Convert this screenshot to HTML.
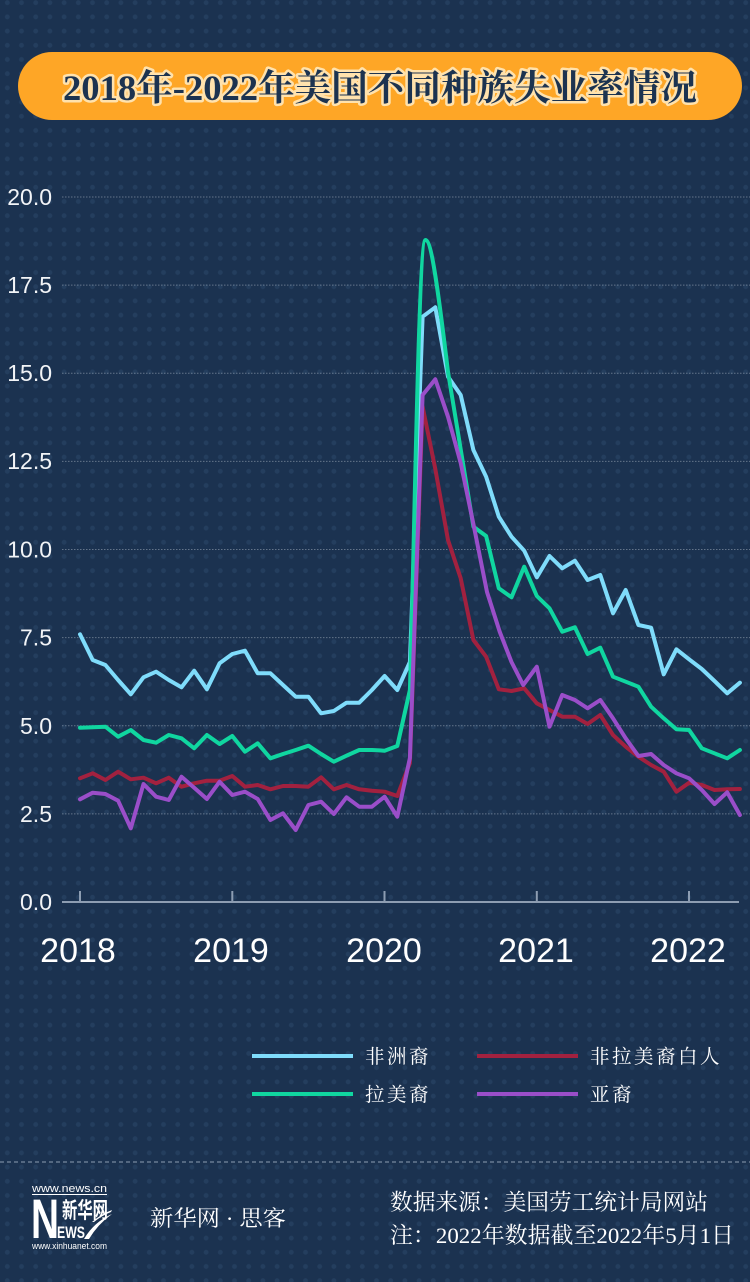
<!DOCTYPE html>
<html>
<head>
<meta charset="utf-8">
<style>
html,body{margin:0;padding:0;background:#1b3250;}
svg{display:block;}
</style>
</head>
<body>
<svg width="750" height="1282" viewBox="0 0 750 1282" xmlns="http://www.w3.org/2000/svg">
<defs>
<pattern id="dots" width="14.2" height="14.2" patternUnits="userSpaceOnUse" x="0.2" y="-4.4">
<circle cx="7.1" cy="7.1" r="2.4" fill="#243e5e"/>
</pattern>
</defs>
<rect x="0" y="0" width="750" height="1282" fill="#1b3250"/>
<rect x="0" y="0" width="750" height="1282" fill="url(#dots)"/>

<!-- Title -->
<rect x="18" y="52" width="724" height="68" rx="34" ry="34" fill="#fea626"/>
<text x="380" y="100" text-anchor="middle" font-family="Liberation Serif, Noto Serif CJK SC, serif" font-weight="bold" font-size="36" fill="#1c3350" stroke="#ffe2ad" stroke-width="5" stroke-linejoin="round" paint-order="stroke" textLength="634" lengthAdjust="spacingAndGlyphs">2018年-2022年美国不同种族失业率情况</text>

<!-- Gridlines -->
<g stroke="#aab6c4" stroke-width="1" stroke-dasharray="1.5,1.5" opacity="0.5">
<line x1="62" y1="197" x2="750" y2="197"/>
<line x1="62" y1="285.1" x2="750" y2="285.1"/>
<line x1="62" y1="373.3" x2="750" y2="373.3"/>
<line x1="62" y1="461.4" x2="750" y2="461.4"/>
<line x1="62" y1="549.5" x2="750" y2="549.5"/>
<line x1="62" y1="637.6" x2="750" y2="637.6"/>
<line x1="62" y1="725.8" x2="750" y2="725.8"/>
<line x1="62" y1="813.9" x2="750" y2="813.9"/>
</g>

<!-- Y labels -->
<g font-family="Liberation Sans, sans-serif" font-size="23" fill="#f2f4f7" text-anchor="end">
<text x="52" y="205">20.0</text>
<text x="52" y="293">17.5</text>
<text x="52" y="381">15.0</text>
<text x="52" y="469">12.5</text>
<text x="52" y="557.5">10.0</text>
<text x="52" y="645.5">7.5</text>
<text x="52" y="734">5.0</text>
<text x="52" y="822">2.5</text>
<text x="52" y="910">0.0</text>
</g>

<!-- Axis -->
<g stroke="#8d9db2" stroke-width="2">
<line x1="62" y1="902" x2="739" y2="902"/>
<line x1="80" y1="891" x2="80" y2="902"/>
<line x1="232.3" y1="891" x2="232.3" y2="902"/>
<line x1="384.5" y1="891" x2="384.5" y2="902"/>
<line x1="536.8" y1="891" x2="536.8" y2="902"/>
<line x1="689" y1="891" x2="689" y2="902"/>
</g>
<g font-family="Liberation Sans, sans-serif" font-size="34" fill="#ffffff" text-anchor="middle">
<text x="78" y="962">2018</text>
<text x="231" y="962">2019</text>
<text x="384" y="962">2020</text>
<text x="536" y="962">2021</text>
<text x="688" y="962">2022</text>
</g>

<!-- Series -->
<g fill="none" stroke-width="4" stroke-linejoin="round" stroke-linecap="round">
<path stroke="#7fdcfb" d="M80,634.3 L92.7,660 L105.4,665 L118.1,680 L130.8,694.3 L143.5,677.3 L156.1,671.7 L168.8,680 L181.5,687.3 L194.2,670.7 L206.9,689.3 L219.6,663.3 L232.3,654 L245,650.7 L257.7,673.3 L270.4,673.3 L283,685 L295.7,696.7 L308.4,696.7 L321.1,713.3 L333.8,711 L346.5,702.7 L359.2,702.7 L371.9,690 L384.6,676 L397.3,690 L409.9,662 L422.6,316.7 L435.3,307.3 L448,376.7 L460.7,395 L473.4,450 L486.1,476.7 L498.8,516.7 L511.5,536.7 L524.2,550.7 L536.8,577.3 L549.5,556 L562.2,568.3 L574.9,560.7 L587.6,580 L600.3,575 L613,613.3 L625.7,590 L638.4,625 L651.1,627.7 L663.7,674.3 L676.4,649.3 L689.1,659.3 L701.8,669 L714.5,681 L727.2,693.3 L739.9,682.7"/>
<path stroke="#a2213f" d="M80,778.3 L92.7,773.3 L105.4,780 L118.1,771.7 L130.8,779.3 L143.5,777.7 L156.1,783.3 L168.8,777.7 L181.5,786.7 L194.2,783.3 L206.9,780.7 L219.6,780.7 L232.3,776 L245,786.7 L257.7,785 L270.4,789.3 L283,786 L295.7,786 L308.4,786.7 L321.1,777.3 L333.8,789.3 L346.5,785 L359.2,789.3 L371.9,790.7 L384.6,791.7 L397.3,796 L409.9,763 L422.6,406.7 L435.3,469 L448,540 L460.7,578.3 L473.4,640 L486.1,656.7 L498.8,689.3 L511.5,691 L524.2,688.3 L536.8,703.3 L549.5,710 L562.2,716.7 L574.9,716.7 L587.6,724 L600.3,715 L613,735 L625.7,746.7 L638.4,756.7 L651.1,765 L663.7,771.7 L676.4,791.7 L689.1,782.7 L701.8,785 L714.5,790 L727.2,789.3 L739.9,789"/>
<path stroke="#10d6a0" d="M80,727.7 L92.7,727.3 L105.4,726.7 L118.1,736.7 L130.8,730 L143.5,740 L156.1,742.7 L168.8,735 L181.5,738.3 L194.2,748.3 L206.9,735 L219.6,744 L232.3,736 L245,751.7 L257.7,743.3 L270.4,758.3 L283,754 L295.7,750 L308.4,745.7 L321.1,754 L333.8,761.7 L346.5,755.7 L359.2,750 L371.9,750 L384.6,750.7 L397.3,746 L409.9,690 C414.5,545 418.5,240 425.5,240 C431,240 437,280 448,372 L473.4,526.7 L486.1,536 L498.8,588.3 L511.5,597.3 L524.2,566.7 L536.8,596 L549.5,608.3 L562.2,631.7 L574.9,627.3 L587.6,654 L600.3,647.7 L613,676.7 L625.7,681.7 L638.4,686.7 L651.1,706.7 L663.7,718.3 L676.4,729.3 L689.1,730 L701.8,748.3 L714.5,753.3 L727.2,758.3 L739.9,750"/>
<path stroke="#9a4ec9" d="M80,799.3 L92.7,792.7 L105.4,794 L118.1,800.7 L130.8,828.3 L143.5,784 L156.1,796.7 L168.8,800 L181.5,776.7 L194.2,787.7 L206.9,799 L219.6,781.7 L232.3,795 L245,791.7 L257.7,799 L270.4,820 L283,813.3 L295.7,830 L308.4,805 L321.1,801.7 L333.8,814 L346.5,797.3 L359.2,806.7 L371.9,806.7 L384.6,796.7 L397.3,816.7 L409.9,758 L422.6,395 L435.3,379.3 L448,416.7 L460.7,463 L473.4,524 L487,592 L499.8,632 L511.5,662 L523.2,685 L536.8,666.7 L549.5,726.7 L562.2,695 L574.9,700 L587.6,708.3 L600.3,700 L613,718.3 L625.7,738.3 L638.4,756 L651.1,754 L663.7,765 L676.4,773.3 L689.1,778.3 L701.8,790 L714.5,804 L727.2,792.3 L739.9,815"/>
</g>

<!-- Legend -->
<g stroke-width="4">
<line x1="252" y1="1056" x2="353" y2="1056" stroke="#7fdcfb"/>
<line x1="477" y1="1056" x2="578" y2="1056" stroke="#a2213f"/>
<line x1="252" y1="1094" x2="353" y2="1094" stroke="#10d6a0"/>
<line x1="477" y1="1094" x2="578" y2="1094" stroke="#9a4ec9"/>
</g>
<g font-family="Liberation Serif, Noto Serif CJK SC, serif" font-size="19.5" fill="#ffffff" letter-spacing="2.5">
<text x="365" y="1063">非洲裔</text>
<text x="590" y="1063">非拉美裔白人</text>
<text x="365" y="1101">拉美裔</text>
<text x="590" y="1101">亚裔</text>
</g>

<!-- Footer -->
<line x1="0" y1="1162" x2="750" y2="1162" stroke="#8d9db2" stroke-width="1" stroke-dasharray="4,3"/>

<!-- Logo -->
<g fill="#ffffff">
<text x="32" y="1192" font-family="Liberation Sans, sans-serif" font-size="11" textLength="75" lengthAdjust="spacingAndGlyphs">www.news.cn</text>
<rect x="32" y="1194" width="75" height="1"/>
<text x="31" y="1238" font-family="Liberation Sans, sans-serif" font-weight="bold" font-size="56" textLength="28" lengthAdjust="spacingAndGlyphs">N</text>
<text x="62" y="1218" font-family="Liberation Sans, Noto Sans CJK SC, sans-serif" font-weight="bold" font-size="22" textLength="46" lengthAdjust="spacingAndGlyphs">新华网</text>
<text x="57" y="1238" font-family="Liberation Sans, sans-serif" font-weight="bold" font-size="17" textLength="28" lengthAdjust="spacingAndGlyphs">EWS</text>
<path d="M84,1239 Q94,1222 112,1214 Q98,1224 89,1239 Z"/>
<path d="M92,1222 Q101,1214 112,1210 L111,1212 Q101,1216 94,1222 Z"/>
<text x="32" y="1249" font-family="Liberation Sans, sans-serif" font-size="9" textLength="75" lengthAdjust="spacingAndGlyphs">www.xinhuanet.com</text>
</g>

<g font-family="Liberation Serif, Noto Serif CJK SC, serif" fill="#ffffff">
<text x="150" y="1226" font-size="22" textLength="136" lengthAdjust="spacingAndGlyphs">新华网 · 思客</text>
<text x="390" y="1210" font-size="22.5" textLength="318" lengthAdjust="spacingAndGlyphs">数据来源：美国劳工统计局网站</text>
<text x="390" y="1243" font-size="22.5" textLength="344" lengthAdjust="spacingAndGlyphs">注：2022年数据截至2022年5月1日</text>
</g>
</svg>
</body>
</html>
